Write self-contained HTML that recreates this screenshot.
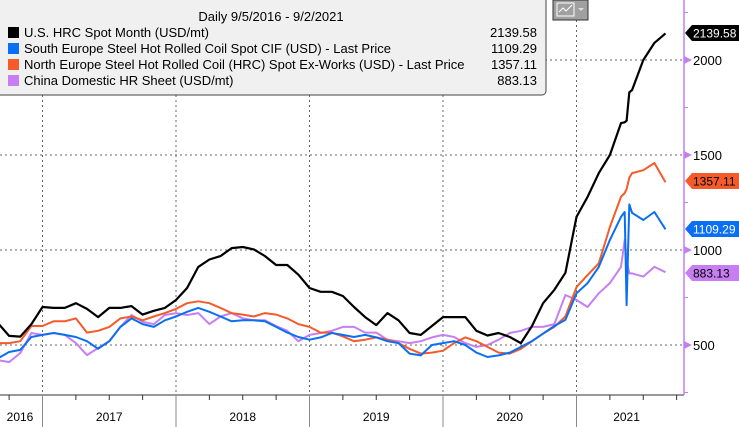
<!DOCTYPE html>
<html><head><meta charset="utf-8"><style>
body{margin:0;width:739px;height:427px;overflow:hidden;background:#fff;font-family:"Liberation Sans",sans-serif;}
svg{display:block}
</style></head><body>
<svg id="chart" width="739" height="427" xmlns="http://www.w3.org/2000/svg">
<g id="grid"></g>
<g id="series"></g>
<g id="axes"></g>
<g>
<rect x="-4" y="-4" width="550" height="99" rx="4" fill="#f0f0f0" stroke="#444" stroke-width="1"/>
<text x="271" y="21" text-anchor="middle" font-size="13" fill="#000">Daily 9/5/2016 - 9/2/2021</text>
<g font-size="13" fill="#000">
<rect x="8" y="27" width="11" height="11" fill="#000"/><text x="24" y="37">U.S. HRC Spot Month (USD/mt)</text><text x="537" y="37" text-anchor="end">2139.58</text>
<rect x="8" y="43" width="11" height="11" fill="#0a6ff2"/><text x="24" y="53">South Europe Steel Hot Rolled Coil Spot CIF (USD) - Last Price</text><text x="537" y="53" text-anchor="end">1109.29</text>
<rect x="8" y="59" width="11" height="11" fill="#f55a2a"/><text x="24" y="69">North Europe Steel Hot Rolled Coil (HRC) Spot Ex-Works (USD) - Last Price</text><text x="537" y="69" text-anchor="end">1357.11</text>
<rect x="8" y="75" width="11" height="11" fill="#c77ef2"/><text x="24" y="85">China Domestic HR Sheet (USD/mt)</text><text x="537" y="85" text-anchor="end">883.13</text>
</g></g>
<g>
<rect x="553" y="0" width="35" height="20" fill="#a0a0a0" stroke="#333"/>
<rect x="557" y="3" width="17" height="13" fill="none" stroke="#fff"/>
<polyline points="559,12 563,8 566,11 572,5" fill="none" stroke="#fff"/>
<polygon points="578,8 584,8 581,11" fill="#ddd"/>
</g>
</svg>
<script>
const months=[0,1,2,3,4,5,6,7,8,9,10,11,12,13,14,15,16,17,18,19,20,21,22,23,24,25,26,27,28,29,30,31,32,33,34,35,36,37,38,39,40,41,42,43,44,45,46,47,48,49,50,51,52,53,54,55,56,56.33,56.5,56.75,57,58,59,60];
const usHrc=[615,548,544,610,700,695,695,720,690,647,695,695,705,660,680,695,737,800,911,950,968,1010,1016,1003,968,921,921,870,800,780,780,758,700,647,605,668,630,563,553,600,647,647,647,575,550,563,542,510,600,720,790,880,1174,1280,1405,1500,1668,1672,1680,1830,1842,2000,2090,2140];
const southEurope=[430,463,474,542,553,563,553,542,520,480,520,595,640,610,595,630,650,675,695,675,650,625,630,630,625,595,565,542,528,540,563,553,542,553,540,520,510,455,445,500,510,520,500,460,437,445,460,490,520,560,600,632,772,826,911,1053,1174,1200,710,1240,1195,1158,1200,1109];
const northEurope=[510,510,520,600,600,625,625,640,565,575,595,640,650,630,650,668,690,720,730,720,695,668,660,650,668,660,640,610,595,565,565,545,520,528,540,528,510,480,455,460,470,510,540,520,490,460,455,480,520,560,595,650,805,868,930,1121,1280,1300,1320,1380,1405,1420,1458,1357];
const china=[420,410,458,563,553,563,553,510,447,484,520,595,658,622,610,658,668,658,668,610,650,668,640,630,630,600,575,520,553,563,575,595,595,565,565,528,520,510,520,540,553,542,510,490,500,528,563,575,595,595,610,763,737,700,772,826,911,1053,947,877,877,860,911,883];
const yTicks=[500,1000,1500,2000];
const yearLabels=["2016","2017","2018","2019","2020","2021"];
const lastLabels=["2139.58","1357.11","1109.29","883.13"];

const NS="http://www.w3.org/2000/svg";
const xOf=m=>-2+m*133.5/12;
const yOf=v=>345-(v-500)*0.19;
const plotBottom=395, axisX=684;
function mk(tag,attrs,parent){const e=document.createElementNS(NS,tag);for(const k in attrs)e.setAttribute(k,attrs[k]);parent.appendChild(e);return e;}
const grid=document.getElementById('grid'),ser=document.getElementById('series'),axes=document.getElementById('axes');
yTicks.forEach(v=>{const l=mk('line',{x1:0,x2:axisX,y1:yOf(v),y2:yOf(v),stroke:'#666','stroke-dasharray':'2,3','stroke-width':1},grid);

});
for(let i=1;i<yearLabels.length;i++){const x=xOf(4+(i-1)*12);const l=mk('line',{x1:x,x2:x,y1:0,y2:plotBottom,stroke:'#666','stroke-dasharray':'2,3'},grid);

}
function draw(data,color,w,name){const pts=data.map((v,i)=>xOf(months[i]).toFixed(1)+','+yOf(v).toFixed(1)).join(' ');
const p=mk('polyline',{points:pts,fill:'none',stroke:color,'stroke-width':w,'stroke-linejoin':'round'},ser);

}
draw(china,'#c77ef2',2,'china-line');
draw(northEurope,'#f55a2a',2,'north-europe-line');
draw(southEurope,'#0a6ff2',2,'south-europe-line');
draw(usHrc,'#000',2.2,'us-hrc-line');
mk('line',{x1:0,x2:axisX,y1:plotBottom,y2:plotBottom,stroke:'#333'},axes);
for(let q=0;q<=20;q++){const m=1+q*3;const x=xOf(m);if(x<0||x>axisX)continue;
const isYear=(m-4)%12===0;
const t=mk('line',{x1:x,x2:x,y1:plotBottom,y2:isYear?427:plotBottom+5,stroke:isYear?'#888':'#333'},axes);

}
yearLabels.forEach((lab,i)=>{const start=i===0?0:4+(i-1)*12;const end=Math.min(4+i*12,61);const cx=i===0?20:(xOf(start)+xOf(end))/2;
const t=mk('text',{x:cx,y:421,'text-anchor':'middle','font-size':12,fill:'#000'},axes);t.textContent=lab;

});
mk('line',{x1:axisX,x2:axisX,y1:0,y2:plotBottom,stroke:'#c77ef2','stroke-width':1.5},axes);
for(let v=250;v<=2250;v+=250){const y=yOf(v);mk('line',{x1:axisX,x2:axisX+4,y1:y,y2:y,stroke:'#c77ef2'},axes);}
yTicks.forEach(v=>{const y=yOf(v);mk('polygon',{points:`${axisX},${y-4} ${axisX+8},${y} ${axisX},${y+4}`,fill:'#c77ef2'},axes);
const t=mk('text',{x:axisX+9,y:y+5,'font-size':13,fill:'#000'},axes);t.textContent=String(v);

});
const tagData=[[usHrc,'#000','#fff'],[northEurope,'#f55a2a','#000'],[southEurope,'#0a6ff2','#fff'],[china,'#c77ef2','#000']];
const tagY=[33,181,229,273];
tagData.forEach((d,i)=>{const y=tagY[i];const g=mk('g',{},axes);


mk('polygon',{points:`${axisX+1},${y} ${axisX+8},${y-8} 739,${y-8} 739,${y+8} ${axisX+8},${y+8}`,fill:d[1]},g);
const t=mk('text',{x:axisX+9,y:y+4.5,'font-size':12,fill:d[2]},g);t.textContent=lastLabels[i];});
</script>
</body></html>
